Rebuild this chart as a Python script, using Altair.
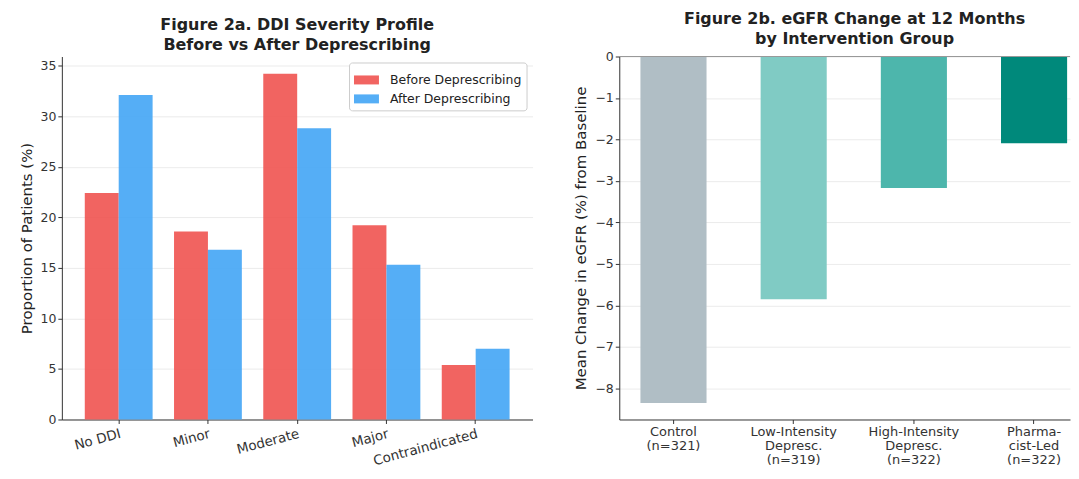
import altair as alt
import pandas as pd

# ---- Figure 2a data ----
categories = ["No DDI", "Minor", "Moderate", "Major", "Contraindicated"]
before = [22.4, 18.6, 34.2, 19.2, 5.4]
after = [32.1, 16.8, 28.8, 15.3, 7.0]
series = ["Before Deprescribing", "After Deprescribing"]
series_colors = ["#EF5350", "#42A5F5"]
y1_ticks = [0, 5, 10, 15, 20, 25, 30, 35]

# ---- Figure 2b data ----
groups = [
    "Control\n(n=321)",
    "Low-Intensity\nDepresc.\n(n=319)",
    "High-Intensity\nDepresc.\n(n=322)",
    "Pharma-\ncist-Led\n(n=322)",
]
egfr_change = [-8.35, -5.85, -3.17, -2.09]
group_colors = ["#B0BEC5", "#80CBC4", "#4DB6AC", "#00897B"]
y2_ticks = [0, -1, -2, -3, -4, -5, -6, -7, -8]

FONT = "DejaVu Sans"

df1 = pd.DataFrame({
    "category": categories * 2,
    "series": [series[0]] * len(categories) + [series[1]] * len(categories),
    "value": before + after,
})

axis_common = dict(
    labelFont=FONT, titleFont=FONT, titleFontSize=15,
    labelColor="#333", titleColor="#222", titleFontWeight="normal",
    domainColor="#333", tickColor="#333", tickSize=4, domainWidth=1,
)

PLOT_H = 364

left = alt.Chart(df1).mark_bar(opacity=0.9).encode(
    x=alt.X("category:N", sort=categories,
            scale=alt.Scale(paddingInner=0.24, paddingOuter=0.257),
            axis=alt.Axis(title=None, labelAngle=345, labelAlign="right",
                          labelBaseline="top", labelPadding=3, grid=False,
                          labelFontSize=13.5, **axis_common)),
    xOffset=alt.XOffset("series:N", sort=series,
                        scale=alt.Scale(paddingInner=0, paddingOuter=0)),
    y=alt.Y("value:Q", scale=alt.Scale(domain=[0, 35.9], nice=False),
            axis=alt.Axis(title="Proportion of Patients (%)", values=y1_ticks,
                          grid=True, gridColor="#e6e6e6", gridWidth=0.8,
                          labelFontSize=12.5, titlePadding=6, **axis_common)),
    color=alt.Color("series:N", sort=series,
                    scale=alt.Scale(domain=series, range=series_colors),
                    legend=alt.Legend(title=None, orient="top-right", offset=6,
                                      padding=5, fillColor="white",
                                      strokeColor="#cccccc", cornerRadius=3,
                                      labelFont=FONT, labelFontSize=12.5,
                                      labelColor="#222", rowPadding=0,
                                      labelOffset=11,
                                      symbolType="M-1,-0.36H1V0.36H-1Z",
                                      symbolSize=625, symbolOpacity=0.9,
                                      symbolStrokeWidth=0)),
).properties(
    width=472, height=PLOT_H,
    title=alt.Title(["Figure 2a. DDI Severity Profile", "Before vs After Deprescribing"],
                    font=FONT, fontSize=16, fontWeight="bold", color="#222",
                    lineHeight=20, offset=4),
)

df2 = pd.DataFrame({"group": groups, "change": egfr_change, "color": group_colors})

xscale2 = alt.Scale(paddingInner=0.45, paddingOuter=0.1, align=0.88)

bars = alt.Chart(df2).mark_bar().encode(
    x=alt.X("group:N", sort=groups, scale=xscale2,
            axis=alt.Axis(title=None, labelAngle=0, labelAlign="center",
                          labelExpr="split(datum.label, '\\n')",
                          labelFontSize=13, labelLineHeight=14,
                          labelPadding=2, grid=False, **axis_common)),
    y=alt.Y("change:Q", scale=alt.Scale(domain=[-8.75, 0], nice=False),
            axis=alt.Axis(title="Mean Change in eGFR (%) from Baseline",
                          values=y2_ticks, grid=True, gridColor="#e6e6e6",
                          gridWidth=0.8, labelFontSize=12.5, titlePadding=6,
                          **axis_common)),
    color=alt.Color("color:N", scale=None),
)

zero = alt.Chart(df2).mark_rule(color="#999999", strokeWidth=1).encode(
    y=alt.datum(0)
)

right = alt.layer(bars, zero).properties(
    width=452, height=PLOT_H,
    title=alt.Title(["Figure 2b. eGFR Change at 12 Months", "by Intervention Group"],
                    font=FONT, fontSize=16, fontWeight="bold", color="#222",
                    lineHeight=20, offset=4, dx=10),
)

chart = alt.hconcat(left, right, spacing=41).resolve_scale(
    color="independent"
).resolve_legend(
    color="independent"
).configure_view(
    stroke=None
).properties(
    padding={"left": 11, "right": 0, "top": 2, "bottom": 0}
)

chart.save("out.html", embed_options={"renderer": "svg", "actions": False})
